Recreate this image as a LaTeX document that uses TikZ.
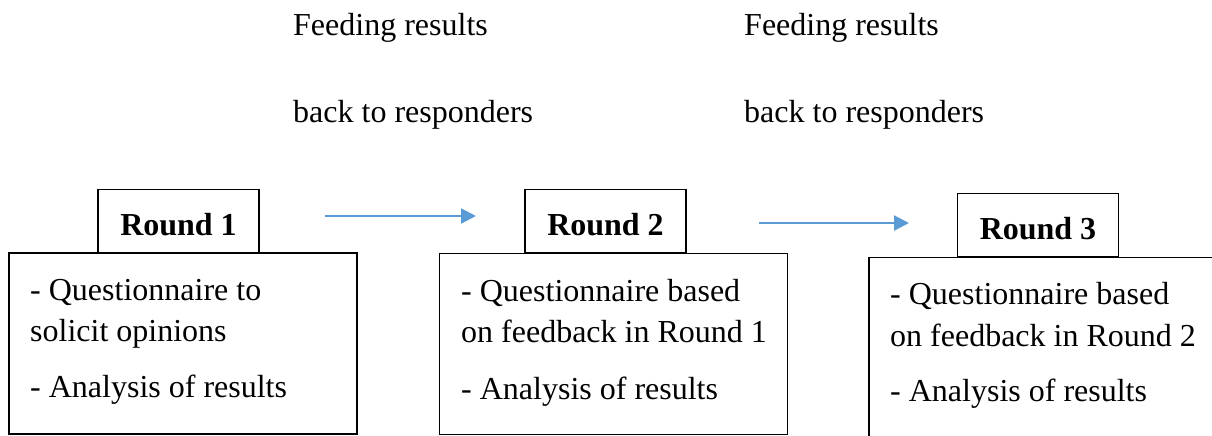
\documentclass[tikz,border=0pt]{standalone}
\usepackage{fontspec}
\setmainfont{Liberation Serif}
\usetikzlibrary{arrows.meta}
\definecolor{arrowblue}{HTML}{5B9BD5}
\tikzset{
  txt/.style={anchor=base west, inner sep=0pt, font=\fontsize{32}{38}\selectfont},
  roundlabel/.style={draw=black, line width=1.5pt, minimum width=161pt, minimum height=63pt, inner sep=0pt, text height=28pt, text depth=0pt, font=\fontsize{32}{38}\selectfont\bfseries},
  roundbox/.style={draw=black, line width=1.5pt, minimum width=348pt, minimum height=181pt, inner sep=0pt},
  flow/.style={draw=arrowblue, line width=2.2pt, -{Triangle[length=15pt,width=15pt]}}
}
\begin{document}
\begin{tikzpicture}[x=1pt,y=-1pt]
\useasboundingbox (0,0) rectangle (1212,436);
\clip (0,0) rectangle (1212,436);
% top labels
\node[txt] (f1) at (293,36) {Feeding results};
\node[txt] (r1) at (293,122) {back to responders};
\node[txt] (f2) at (744,36) {Feeding results};
\node[txt] (r2) at (744,122) {back to responders};
% round labels
\node[roundlabel] (lab1) at (178.5,221) {Round 1};
\node[roundlabel] (lab2) at (605.5,221) {Round 2};
\node[roundlabel] (lab3) at (1038,225) {Round 3};
% boxes
\node[roundbox] (box1) at (183,343.5) {};
\node[roundbox] (box2) at (613.5,344) {};
\node[roundbox] (box3) at (1043,348) {};
% box texts
\node[txt] (b1a) at (30,300) {- Questionnaire to};
\node[txt] (b1b) at (30,341) {solicit opinions};
\node[txt] (b1c) at (30,397) {- Analysis of results};
\node[txt] (b2a) at (461,301) {- Questionnaire based};
\node[txt] (b2b) at (461,342) {on feedback in Round 1};
\node[txt] (b2c) at (461,399) {- Analysis of results};
\node[txt] (b3a) at (890,304) {- Questionnaire based};
\node[txt] (b3b) at (890,346) {on feedback in Round 2};
\node[txt] (b3c) at (890,401) {- Analysis of results};
% arrows
\coordinate (a1s) at (325,216);
\coordinate (a1e) at (476,216);
\coordinate (a2s) at (759,223);
\coordinate (a2e) at (909,223);
\draw[flow] (a1s) -- (a1e);
\draw[flow] (a2s) -- (a2e);
\end{tikzpicture}
\end{document}
